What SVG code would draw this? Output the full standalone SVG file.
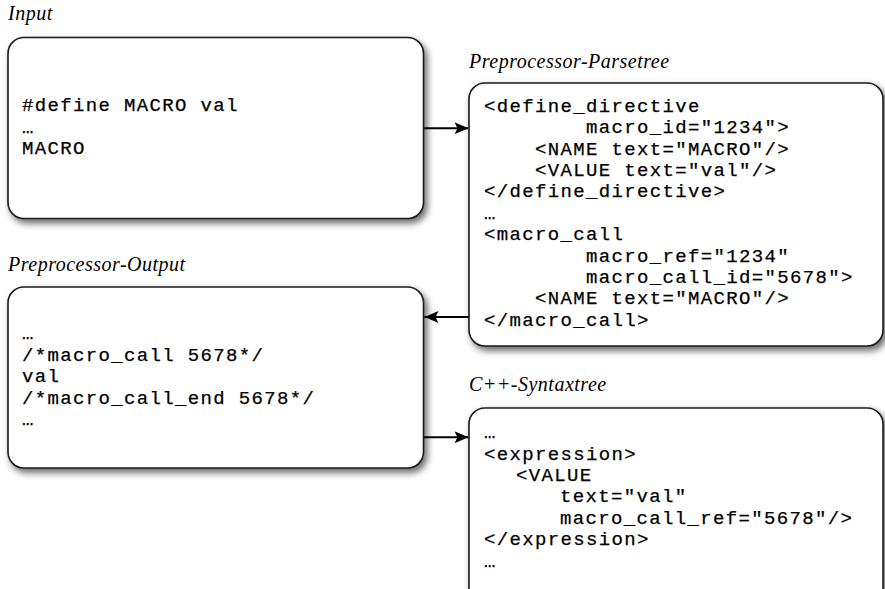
<svg xmlns="http://www.w3.org/2000/svg" width="885" height="589" viewBox="0 0 885 589">
<defs>
<filter id="sh" x="-10%" y="-10%" width="125%" height="130%">
<feDropShadow dx="3" dy="4" stdDeviation="3.5" flood-color="#000" flood-opacity="0.6"/>
</filter>
<marker id="ah" markerUnits="userSpaceOnUse" markerWidth="16" markerHeight="14" refX="14" refY="7" orient="auto">
<path d="M0,1 L14,7 L0,13 L3,7 Z" fill="#000"/>
</marker>
<style>
.box{fill:#fff;stroke:#1a1a1a;stroke-width:1.6;filter:url(#sh)}
.code{font-family:"Liberation Mono","Courier New",monospace;font-size:19px;letter-spacing:1.35px;fill:#000;stroke:#000;stroke-width:0.25}
.title{font-family:"Liberation Serif","Times New Roman",serif;font-style:italic;font-size:20px;letter-spacing:0.5px;fill:#000}
.conn{stroke:#000;stroke-width:2;fill:none;marker-end:url(#ah)}
</style>
</defs>
<rect width="885" height="589" fill="#fff"/>

<g id="input">
<text class="title" x="8" y="20">Input</text>
<rect class="box" x="8" y="37.5" width="415.5" height="181" rx="16"/>
<text class="code" x="22" y="111">#define MACRO val</text>
<text class="code" x="22" y="132.5">…</text>
<text class="code" x="22" y="154">MACRO</text>
</g>

<g id="parsetree">
<text class="title" x="469" y="68">Preprocessor-Parsetree</text>
<rect class="box" x="469" y="83" width="414" height="263" rx="16"/>
<text class="code" x="484" y="111.7">&lt;define_directive</text>
<text class="code" x="586" y="133.1">macro_id="1234"&gt;</text>
<text class="code" x="535" y="154.5">&lt;NAME text="MACRO"/&gt;</text>
<text class="code" x="535" y="175.9">&lt;VALUE text="val"/&gt;</text>
<text class="code" x="484" y="197.3">&lt;/define_directive&gt;</text>
<text class="code" x="484" y="218.7">…</text>
<text class="code" x="484" y="240.1">&lt;macro_call</text>
<text class="code" x="586" y="261.5">macro_ref="1234"</text>
<text class="code" x="586" y="282.9">macro_call_id="5678"&gt;</text>
<text class="code" x="535" y="304.3">&lt;NAME text="MACRO"/&gt;</text>
<text class="code" x="484" y="325.7">&lt;/macro_call&gt;</text>
</g>

<g id="output">
<text class="title" x="8" y="271">Preprocessor-Output</text>
<rect class="box" x="8" y="287" width="415.5" height="181" rx="16"/>
<text class="code" x="22" y="338.5">…</text>
<text class="code" x="22" y="360.5">/*macro_call 5678*/</text>
<text class="code" x="22" y="382">val</text>
<text class="code" x="22" y="403.5">/*macro_call_end 5678*/</text>
<text class="code" x="22" y="424.5">…</text>
</g>

<g id="syntaxtree">
<text class="title" x="469" y="391">C++-Syntaxtree</text>
<rect class="box" x="469" y="408" width="414" height="200" rx="16"/>
<text class="code" x="484" y="438">…</text>
<text class="code" x="484" y="459.5">&lt;expression&gt;</text>
<text class="code" x="516" y="480.9">&lt;VALUE</text>
<text class="code" x="560" y="502.3">text="val"</text>
<text class="code" x="560" y="523.7">macro_call_ref="5678"/&gt;</text>
<text class="code" x="484" y="545.1">&lt;/expression&gt;</text>
<text class="code" x="484" y="566.5">…</text>
</g>

<g id="connectors">
<line class="conn" x1="424" y1="128.3" x2="468.5" y2="128.3"/>
<line class="conn" x1="469" y1="317" x2="424.5" y2="317"/>
<line class="conn" x1="424" y1="437.3" x2="468.5" y2="437.3"/>
</g>
</svg>
